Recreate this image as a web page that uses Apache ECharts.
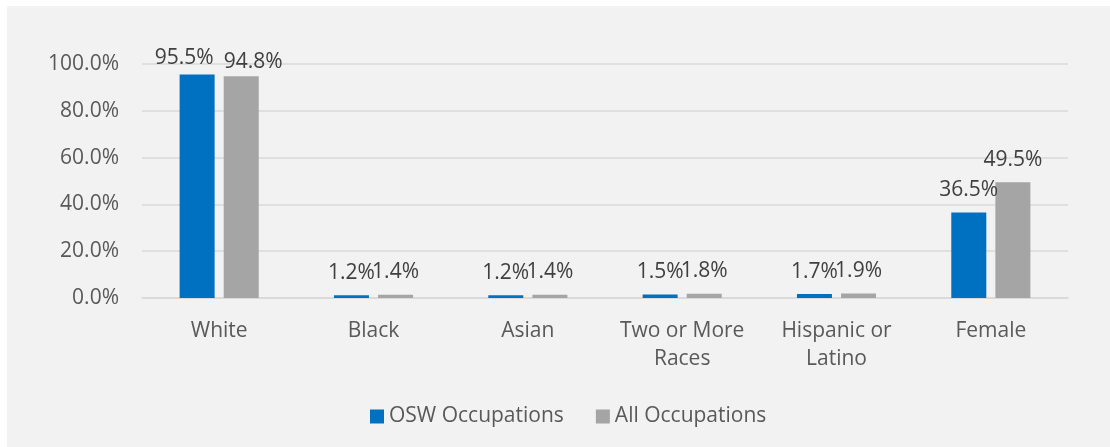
<!DOCTYPE html>
<html>
<head>
<meta charset="utf-8">
<script src="https://cdn.jsdelivr.net/npm/echarts@6/dist/echarts.min.js"></script>
<style>
  html, body { margin: 0; padding: 0; background: #fff; }
  #chart { width: 1110px; height: 447px; }
</style>
</head>
<body>
<div id="chart"></div>
<script>
var categories = ['White', 'Black', 'Asian', 'Two or More\nRaces', 'Hispanic or\nLatino', 'Female'];
var oswValues = [95.5, 1.2, 1.2, 1.5, 1.7, 36.5];
var allValues = [94.8, 1.4, 1.4, 1.8, 1.9, 49.5];
var yTicks = [0, 20, 40, 60, 80, 100];

var font = 'Open Sans';
var textColor = '#595959';
var fs = 21;

function pct(p) { return p.value.toFixed(1) + '%'; }

// the first pair of labels is pushed apart so they don't collide (like Excel does)
var oswData = oswValues.map(function (v, i) {
  return i === 0 ? { value: v, label: { offset: [-13, 6] } } : v;
});
var allData = allValues.map(function (v, i) {
  return i === 0 ? { value: v, label: { offset: [12, 8] } } : v;
});

var chart = echarts.init(document.getElementById('chart'));
var option = {
  animation: false,
  backgroundColor: '#fff',
  graphic: [
    {
      type: 'rect',
      z: -10,
      shape: { x: 7, y: 6, width: 1103, height: 441 },
      style: { fill: '#f2f2f2' }
    }
  ],
  textStyle: { fontFamily: font },
  grid: { left: 142, right: 42, top: 64, bottom: 149 },
  legend: {
    left: 365,
    top: 401,
    itemWidth: 14,
    itemHeight: 14,
    itemGap: 32,
    icon: 'rect',
    textStyle: { color: textColor, fontSize: fs, fontFamily: font },
    data: ['OSW Occupations', 'All Occupations']
  },
  xAxis: {
    type: 'category',
    data: categories,
    axisLine: { show: true, lineStyle: { color: '#d9d9d9', width: 1.5 } },
    axisTick: { show: false },
    axisLabel: {
      interval: 0, hideOverlap: false,
      color: textColor, fontSize: fs, margin: 19, lineHeight: 28, fontFamily: font
    }
  },
  yAxis: {
    type: 'value',
    min: yTicks[0],
    max: yTicks[yTicks.length - 1],
    interval: 20,
    axisLine: { show: false },
    axisTick: { show: false },
    splitLine: { lineStyle: { color: '#d9d9d9', width: 1.5 } },
    axisLabel: {
      color: textColor, fontSize: fs, margin: 23, fontFamily: font,
      formatter: function (v) { return v.toFixed(1) + '%'; }
    }
  },
  series: [
    {
      name: 'OSW Occupations',
      type: 'bar',
      data: oswData,
      barWidth: 35,
      barGap: '26%',
      itemStyle: { color: '#0070c0' },
      label: {
        show: true, position: 'top', distance: 12,
        color: '#404040', fontSize: fs, fontFamily: font,
        formatter: pct
      }
    },
    {
      name: 'All Occupations',
      type: 'bar',
      data: allData,
      barWidth: 35,
      itemStyle: { color: '#a5a5a5' },
      label: {
        show: true, position: 'top', distance: 12,
        color: '#404040', fontSize: fs, fontFamily: font,
        formatter: pct
      }
    }
  ]
};
chart.setOption(option);
</script>
</body>
</html>
